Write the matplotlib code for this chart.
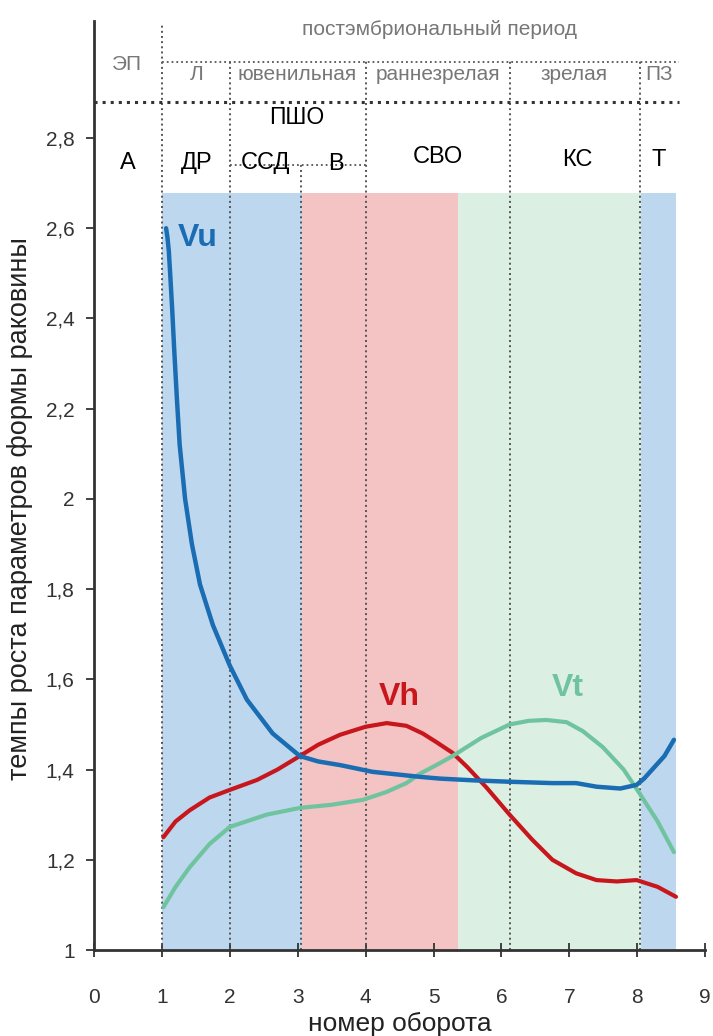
import matplotlib.pyplot as plt

plt.rcParams['font.family'] = ['Liberation Sans', 'DejaVu Sans']

# readings from the picture (turn number, growth rate)
vu_x = [1.06, 1.08, 1.10, 1.12, 1.15, 1.18, 1.22, 1.26, 1.34, 1.44, 1.56, 1.75, 2.0, 2.25, 2.63,
        3.03, 3.3, 3.62, 4.1, 4.79, 5.09, 5.6, 6.12, 6.75, 7.1, 7.4, 7.75, 7.99, 8.1, 8.22,
        8.4, 8.54]
vu_y = [2.60, 2.58, 2.55, 2.50, 2.42, 2.33, 2.22, 2.12, 2.0, 1.90, 1.81, 1.72, 1.63, 1.555, 1.48,
        1.43, 1.418, 1.41, 1.395, 1.384, 1.38, 1.376, 1.373, 1.37, 1.37, 1.362, 1.358, 1.366,
        1.38, 1.40, 1.43, 1.466]

vh_x = [1.02, 1.2, 1.41, 1.7, 2.0, 2.4, 2.7, 3.03, 3.3, 3.62, 4.0, 4.31, 4.6, 4.84, 5.05,
        5.28, 5.5, 5.78, 6.12, 6.45, 6.75, 7.1, 7.4, 7.7, 7.99, 8.3, 8.57]
vh_y = [1.25, 1.285, 1.31, 1.338, 1.355, 1.377, 1.40, 1.43, 1.455, 1.477, 1.495, 1.503, 1.497,
        1.48, 1.46, 1.437, 1.405, 1.36, 1.30, 1.245, 1.20, 1.17, 1.155, 1.152, 1.155, 1.14, 1.118]

vt_x = [1.02, 1.2, 1.41, 1.7, 2.0, 2.54, 3.03, 3.5, 3.96, 4.3, 4.6, 4.79, 5.09, 5.28, 5.7,
        6.12, 6.4, 6.66, 6.96, 7.2, 7.49, 7.8, 8.03, 8.3, 8.54]
vt_y = [1.095, 1.14, 1.184, 1.235, 1.273, 1.30, 1.315, 1.322, 1.333, 1.35, 1.37, 1.39, 1.414,
        1.43, 1.47, 1.50, 1.508, 1.51, 1.505, 1.485, 1.45, 1.40, 1.348, 1.285, 1.217]

# coloured stages along the x axis
band_edges = [1.0, 3.06, 5.36, 8.05, 8.57]
band_colors = ['#bdd7ee', '#f4c3c3', '#dcefe3', '#bdd7ee']

vlines_x = [1.0, 2.0, 3.05, 4.0, 6.13, 8.04]
vlines_top = [3.05, 2.97, 2.74, 2.97, 2.97, 2.97]

yticks = [1, 1.2, 1.4, 1.6, 1.8, 2, 2.2, 2.4, 2.6, 2.8]
ytick_labels = ['1', '1,2', '1,4', '1,6', '1,8', '2', '2,2', '2,4', '2,6', '2,8']

row2 = ['Л', 'ювенильная', 'раннезрелая', 'зрелая', 'ПЗ']
row2_x = [1.51, 2.99, 5.06, 7.07, 8.32]
row4 = ['А', 'ДР', 'ССД', 'В', 'СВО', 'КС', 'Т']
row4_x = [0.49, 1.51, 2.53, 3.56, 5.06, 7.12, 8.32]
row4_y = [2.745, 2.745, 2.745, 2.742, 2.758, 2.752, 2.752]

fig = plt.figure(figsize=(7.13, 10.36), dpi=100)
ax = fig.add_axes([0.132, 0.083, 0.857, 0.897])

for i in range(len(band_colors)):
    ax.fill_between([band_edges[i], band_edges[i + 1]], 1, 2.678, color=band_colors[i], lw=0)

for xv, top in zip(vlines_x, vlines_top):
    ax.plot([xv, xv], [1, top], ls=':', color='#555555', lw=1.4)

# header lines
ax.plot([0, 8.62], [2.88, 2.88], ls=':', color='#333333', lw=2.2)
ax.plot([1, 8.62], [2.969, 2.969], ls=':', color='#555555', lw=1.3)
ax.plot([2, 4], [2.74, 2.74], ls=':', color='#555555', lw=1.3)

ax.plot(vh_x, vh_y, color='#c8161d', lw=3, solid_capstyle='round')
ax.plot(vt_x, vt_y, color='#6fc49f', lw=3, solid_capstyle='round')
ax.plot(vu_x, vu_y, color='#1a6db3', lw=3.2, solid_capstyle='round')

ax.text(1.53, 2.578, 'Vu', color='#1a6db3', fontsize=23, fontweight='bold', va='center', ha='center')
ax.text(4.49, 1.56, 'Vh', color='#c8161d', fontsize=23, fontweight='bold', va='center', ha='center')
ax.text(6.97, 1.58, 'Vt', color='#6fc49f', fontsize=23, fontweight='bold', va='center', ha='center')

ax.text(5.09, 3.04, 'постэмбриональный период', color='#777777', fontsize=15, ha='center', va='center')
ax.text(0.49, 2.963, 'ЭП', color='#777777', fontsize=15, ha='center', va='center')
for t, xv in zip(row2, row2_x):
    ax.text(xv, 2.94, t, color='#777777', fontsize=15, ha='center', va='center')
ax.text(2.99, 2.845, 'ПШО', color='black', fontsize=16.5, ha='center', va='center')
for t, xv, yv in zip(row4, row4_x, row4_y):
    ax.text(xv, yv, t, color='black', fontsize=17, ha='center', va='center')

ax.set_xlim(0, 9)
ax.set_ylim(1, 3.06)
ax.set_xticks(range(10))
ax.set_yticks(yticks)
ax.set_yticklabels(ytick_labels)
ax.tick_params(axis='y', direction='out', length=6, width=1.3, labelsize=15, pad=8, colors='#333333')
ax.tick_params(axis='x', direction='inout', length=10, width=1.3, labelsize=15, pad=22, colors='#333333')
for s in ['top', 'right']:
    ax.spines[s].set_visible(False)
for s in ['left', 'bottom']:
    ax.spines[s].set_linewidth(2)
    ax.spines[s].set_color('#333333')

ax.set_xlabel('номер оборота', fontsize=19, color='#222222', labelpad=4)
ax.set_ylabel('темпы роста параметров формы раковины', fontsize=19.5, color='#222222')
ax.yaxis.set_label_coords(-0.1, 0.475)

fig.savefig('out.png', dpi=100)
